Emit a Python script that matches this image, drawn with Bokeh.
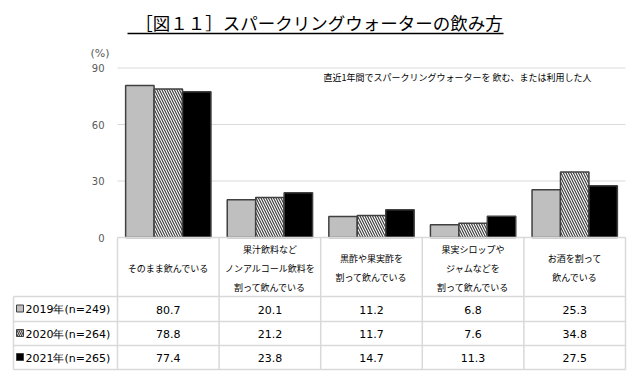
from bokeh.plotting import figure
from bokeh.models import Range1d
from bokeh.core.properties import value
from bokeh.embed import file_html
from bokeh.resources import INLINE

# ---------------- data ----------------
categories = [
    "そのまま飲んでいる",
    "果汁飲料など\nノンアルコール飲料を\n割って飲んでいる",
    "黒酢や果実酢を\n割って飲んでいる",
    "果実シロップや\nジャムなどを\n割って飲んでいる",
    "お酒を割って\n飲んでいる",
]
series_names = ["2019年(n=249)", "2020年(n=264)", "2021年(n=265)"]
values_2019 = [80.7, 20.1, 11.2, 6.8, 25.3]
values_2020 = [78.8, 21.2, 11.7, 7.6, 34.8]
values_2021 = [77.4, 23.8, 14.7, 11.3, 27.5]
y_ticks = [0, 30, 60, 90]
title_text = "［図１１］スパークリングウォーターの飲み方"
note_text = "直近1年間でスパークリングウォーターを 飲む、または利用した人"
unit_text = "(%)"

series_values = [values_2019, values_2020, values_2021]

# ---------------- layout (pixels) ----------------
W, H, M = 627, 371, 0
PLOT_L, PLOT_R = 117, 625
Y0_PX, YTOP_PX, YTOP_VAL = 237, 67.5, 90
n_cat = len(categories)
cat_w = (PLOT_R - PLOT_L) / n_cat
scale_y = (Y0_PX - YTOP_PX) / YTOP_VAL

x_range = Range1d((M - PLOT_L) / cat_w, (M + W - PLOT_L) / cat_w)
y_range = Range1d((Y0_PX - (M + H)) / scale_y, (Y0_PX - M) / scale_y)

p = figure(width=W, height=H, x_range=x_range, y_range=y_range,
           output_backend="svg", toolbar_location=None,
           x_axis_location=None, y_axis_location=None,
           min_border=0, outline_line_color=None)
p.grid.visible = False
p.background_fill_color = "white"
p.border_fill_color = "white"
p.extra_x_ranges = {"px": Range1d(M, M + W)}
p.extra_y_ranges = {"px": Range1d(M + H, M)}

JP = value("Noto Sans CJK JP")
NUM = value("DejaVu Sans")
GRID = "#D9D9D9"
EDGE = "#404040"

# gridlines + tick labels
p.segment(x0=[PLOT_L] * len(y_ticks), x1=[PLOT_R] * len(y_ticks), y0=y_ticks, y1=y_ticks,
          x_range_name="px", line_color=GRID, line_width=1.2)
p.text(x=[104] * len(y_ticks), y=y_ticks, text=[str(t) for t in y_ticks], x_range_name="px",
       text_align="right", text_baseline="middle", text_font=NUM,
       text_font_size="10px", text_color="#595959")
p.text(x=[99.5], y=[53], text=[unit_text], x_range_name="px", y_range_name="px",
       text_align="center", text_baseline="middle", text_font=NUM,
       text_font_size="11px", text_color="#595959")

# bars
bar_w = 0.28
offsets = [-bar_w, 0.0, bar_w]
styles = [
    dict(fill_color="#BFBFBF"),
    dict(fill_color="white", hatch_pattern="\\", hatch_color=EDGE, hatch_weight=1.2, hatch_scale=5),
    dict(fill_color="black"),
]
for vals, off, st in zip(series_values, offsets, styles):
    xs = [i + 0.5 + off for i in range(n_cat)]
    p.vbar(x=xs, top=vals, bottom=0, width=bar_w, line_color=EDGE, line_width=1.5, **st)

# title
p.text(x=[318.5], y=[22], text=[title_text], x_range_name="px", y_range_name="px",
       text_align="center", text_baseline="middle", text_font=JP,
       text_font_size="17.5px", text_color="black")
p.segment(x0=[127], x1=[503], y0=[33], y1=[33], x_range_name="px", y_range_name="px",
          line_color="black", line_width=1.5)

# note
p.text(x=[457], y=[77], text=[note_text], x_range_name="px", y_range_name="px",
       text_align="center", text_baseline="middle", text_font=JP,
       text_font_size="9px", text_color="black")

# table grid
TBL_TOP, HDR_BOT = 237, 296
row_lines = [296, 321, 345, 369]
LEG_L = 13
p.segment(x0=[PLOT_L], x1=[PLOT_R], y0=[TBL_TOP], y1=[TBL_TOP], x_range_name="px", y_range_name="px",
          line_color=GRID, line_width=1.5)
p.segment(x0=[LEG_L] * len(row_lines), x1=[PLOT_R] * len(row_lines), y0=row_lines, y1=row_lines,
          x_range_name="px", y_range_name="px", line_color=GRID, line_width=1.5)
col_x = [PLOT_L + k * cat_w for k in range(n_cat + 1)]
p.segment(x0=col_x, x1=col_x, y0=[TBL_TOP] * len(col_x), y1=[row_lines[-1]] * len(col_x),
          x_range_name="px", y_range_name="px", line_color=GRID, line_width=1.5)
p.segment(x0=[LEG_L], x1=[LEG_L], y0=[HDR_BOT], y1=[row_lines[-1]],
          x_range_name="px", y_range_name="px", line_color=GRID, line_width=1.5)

# header texts
hx, hy, ht = [], [], []
HDR_MID, LINE_H = 267.5, 19
for i, c in enumerate(categories):
    lines = c.split("\n")
    n = len(lines)
    for j, ln in enumerate(lines):
        hx.append(i + 0.5)
        hy.append(HDR_MID + (j - (n - 1) / 2) * LINE_H)
        ht.append(ln)
p.text(x=hx, y=hy, text=ht, y_range_name="px", text_align="center", text_baseline="middle",
       text_font=JP, text_font_size="9px", text_color="black")

# value rows + legend
row_mid = [(row_lines[k] + row_lines[k + 1]) / 2 + 0.5 for k in range(3)]
leg_styles = [
    dict(fill_color="#BFBFBF"),
    dict(fill_color="white", hatch_pattern="\\", hatch_color=EDGE, hatch_weight=1.2, hatch_scale=4),
    dict(fill_color="black"),
]
for k, (vals, name, st) in enumerate(zip(series_values, series_names, leg_styles)):
    p.text(x=[i + 0.5 for i in range(n_cat)], y=[row_mid[k]] * n_cat, text=[f"{v:.1f}" for v in vals],
           y_range_name="px", text_align="center", text_baseline="middle",
           text_font=NUM, text_font_size="11px", text_color="black")
    p.rect(x=[19.5], y=[row_mid[k] - 1], width=7, height=7, x_range_name="px", y_range_name="px",
           line_color=EDGE, line_width=1, **st)
    p.text(x=[25], y=[row_mid[k]], text=[name], x_range_name="px", y_range_name="px",
           text_align="left", text_baseline="middle", text_font=NUM,
           text_font_size="11px", text_color="black")

open("out.html", "w").write(file_html(p, INLINE))
